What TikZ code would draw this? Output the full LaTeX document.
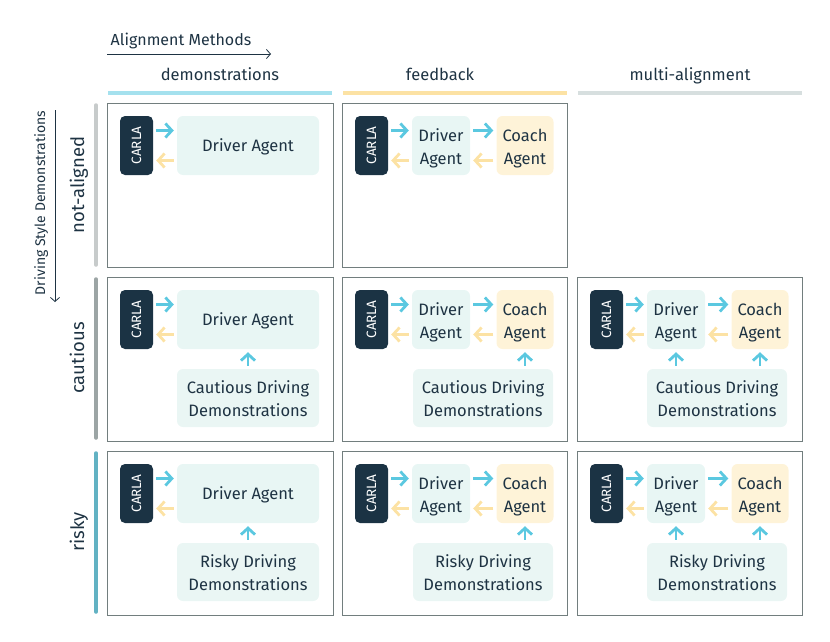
\documentclass[tikz,border=0pt]{standalone}
\usepackage{fontspec}
\setmainfont{Fira Sans}
\usetikzlibrary{arrows.meta}
\definecolor{ink}{HTML}{1E3343}
\definecolor{carla}{HTML}{1B3344}
\definecolor{drvfill}{HTML}{E8F6F4}
\definecolor{coachfill}{HTML}{FEF3D8}
\definecolor{demofill}{HTML}{EAF6F4}
\definecolor{blu}{HTML}{5BC8E0}
\definecolor{yel}{HTML}{FCE2A4}
\definecolor{framec}{HTML}{727E7E}
\newcommand{\twoline}[2]{\raisebox{-2.5pt}[\height][\depth]{\begin{tabular}{@{}c@{}}#1\\#2\end{tabular}}}
\newcommand{\oneline}[1]{\raisebox{-1pt}[\height][\depth]{#1}}
\tikzset{
  every node/.style={text=ink, font=\fontsize{16.5}{23}\selectfont},
  cellframe/.style={draw=framec, line width=0.8pt},
  carlabox/.style={fill=carla, rounded corners=5pt, minimum width=33pt, minimum height=59pt, inner sep=0pt},
  carlatext/.style={text=white, rotate=90, font=\fontsize{13.5}{15}\selectfont},
  drvbox/.style={fill=drvfill, rounded corners=6pt, minimum height=59pt, inner sep=0pt, align=center},
  coachbox/.style={fill=coachfill, rounded corners=6pt, minimum height=59pt, minimum width=57pt, inner sep=0pt, align=center},
  demobox/.style={fill=demofill, rounded corners=6pt, minimum height=58pt, inner sep=0pt, align=center},
  fwd/.style={draw=blu, line width=2.8pt, shorten <=3pt, shorten >=3pt, -{Straight Barb[length=6.5pt,width=14pt]}},
  bwd/.style={draw=yel, line width=2.8pt, shorten <=3pt, shorten >=3pt, -{Straight Barb[length=6.5pt,width=14pt]}},
  axarrow/.style={draw=ink, line width=0.8pt, -{Straight Barb[length=4pt,width=9pt]}},
  colbar/.style={line width=3.5pt},
  rowbar/.style={line width=3.5pt, line cap=round},
  axlabel/.style={font=\fontsize{16}{19}\selectfont},
  sidelabel/.style={font=\fontsize{14}{17}\selectfont},
  rowlabel/.style={font=\fontsize{18.5}{22}\selectfont},
}
% #1 prefix, #2 x0, #3 y0
\newcommand{\cellone}[3]{%
  \draw[cellframe] (#2,#3) rectangle ++(226,164);
  \node[carlabox] (#1c) at (#2+29.5,#3+42.5) {};
  \node[carlatext] (#1ct) at (#1c) {CARLA};
  \node[drvbox, minimum width=142pt] (#1d) at (#2+141,#3+42.5) {\oneline{Driver Agent}};
  \coordinate (#1c1) at ([yshift=15pt]#1c.east);
  \coordinate (#1c2) at ([yshift=-15pt]#1c.east);
  \draw[fwd] (#1c1) -- (#1c1 -| #1d.west);
  \draw[bwd] (#1c2 -| #1d.west) -- (#1c2);
}
\newcommand{\celltwo}[3]{%
  \draw[cellframe] (#2,#3) rectangle ++(225,164);
  \node[carlabox] (#1c) at (#2+29.5,#3+42.5) {};
  \node[carlatext] (#1ct) at (#1c) {CARLA};
  \node[drvbox, minimum width=58pt] (#1d) at (#2+99,#3+42.5) {\twoline{Driver}{Agent}};
  \node[coachbox] (#1k) at (#2+183,#3+42.5) {\twoline{Coach}{Agent}};
  \coordinate (#1c1) at ([yshift=15pt]#1c.east);
  \coordinate (#1c2) at ([yshift=-15pt]#1c.east);
  \draw[fwd] (#1c1) -- (#1c1 -| #1d.west);
  \draw[bwd] (#1c2 -| #1d.west) -- (#1c2);
  \draw[fwd] (#1c1 -| #1d.east) -- (#1c1 -| #1k.west);
  \draw[bwd] (#1c2 -| #1k.west) -- (#1c2 -| #1d.east);
}
\begin{document}
\begin{tikzpicture}[x=1pt,y=-1pt]
\useasboundingbox (0,0) rectangle (830,642);
% top axis
\node[axlabel, anchor=base] (amt) at (181,46) {Alignment Methods};
\coordinate (ax1) at (107,54);
\coordinate (ax2) at (271,54);
\draw[axarrow] (ax1) -- (ax2);
\node[anchor=base] (h1) at (220,81) {demonstrations};
\node[anchor=base] (h2) at (440,81) {feedback};
\node[anchor=base] (h3) at (690,81) {multi-alignment};
\draw[colbar, draw=blu!55] (108,93) -- (332,93);
\draw[colbar, draw=yel] (343,93) -- (567,93);
\draw[colbar, draw=teal!15!framec!25] (578,93) -- (802,93);
% left axis
\node[sidelabel, rotate=90, anchor=base] (dsd) at (45,203) {Driving Style Demonstrations};
\coordinate (ay1) at (55,110);
\coordinate (ay2) at (55,302);
\draw[axarrow] (ay1) -- (ay2);
\node[rowlabel, rotate=90, anchor=base] (r1) at (84,185) {not-aligned};
\node[rowlabel, rotate=90, anchor=base] (r2) at (84,358) {cautious};
\node[rowlabel, rotate=90, anchor=base] (r3) at (84,532) {risky};
\draw[rowbar, draw=framec!40] (96,105) -- (96,265);
\draw[rowbar, draw=framec!70] (96,279) -- (96,438);
\draw[rowbar, draw=blu!70!framec] (96,453) -- (96,612);
% row 1
\cellone{a}{107}{103}
\celltwo{b}{342}{103}
% row 2
\cellone{e}{107}{277}
\node[demobox, minimum width=142pt] (edm) at (248,398) {\twoline{Cautious Driving}{Demonstrations}};
\draw[fwd] (edm.north) -- (edm.north |- ed.south);
\celltwo{f}{342}{277}
\node[demobox, minimum width=140pt] (fdm) at (483,398) {\twoline{Cautious Driving}{Demonstrations}};
\draw[fwd] (fdm.north -| fk.south) -- (fk.south);
\celltwo{g}{577}{277}
\node[demobox, minimum width=140pt] (gdm) at (717,398) {\twoline{Cautious Driving}{Demonstrations}};
\draw[fwd] (gdm.north -| gd.south) -- (gd.south);
\draw[fwd] (gdm.north -| gk.south) -- (gk.south);
% row 3
\cellone{i}{107}{451}
\node[demobox, minimum width=142pt] (idm) at (248,572) {\twoline{Risky Driving}{Demonstrations}};
\draw[fwd] (idm.north) -- (idm.north |- id.south);
\celltwo{j}{342}{451}
\node[demobox, minimum width=140pt] (jdm) at (483,572) {\twoline{Risky Driving}{Demonstrations}};
\draw[fwd] (jdm.north -| jk.south) -- (jk.south);
\celltwo{l}{577}{451}
\node[demobox, minimum width=140pt] (ldm) at (717,572) {\twoline{Risky Driving}{Demonstrations}};
\draw[fwd] (ldm.north -| ld.south) -- (ld.south);
\draw[fwd] (ldm.north -| lk.south) -- (lk.south);
\end{tikzpicture}
\end{document}
